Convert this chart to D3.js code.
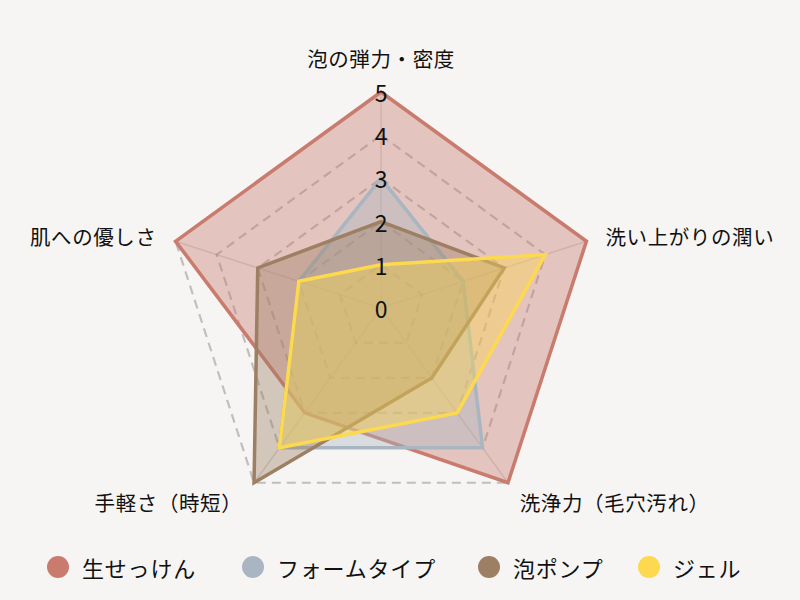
<!DOCTYPE html>
<html>
<head>
<meta charset="utf-8">
<script src="https://cdn.jsdelivr.net/npm/d3@7"></script>
<style>
  html, body { margin: 0; padding: 0; background: #f7f5f3; }
  svg { display: block; font-family: "Noto Sans CJK JP", "Noto Sans", sans-serif; }
</style>
</head>
<body>
<div id="chart"></div>
<script>
// 軸（時計回り、上から）
const axes = ["泡の弾力・密度", "洗い上がりの潤い", "洗浄力（毛穴汚れ）", "手軽さ（時短）", "肌への優しさ"];
const seriesNames = ["生せっけん", "フォームタイプ", "泡ポンプ", "ジェル"];
const namaSekken = [5, 5, 5, 3, 5];
const foamType = [3, 2, 4, 4, 2];
const awaPump = [2, 3, 2, 5, 3];
const gel = [1, 4, 3, 4, 2];
const ticks = [0, 1, 2, 3, 4, 5];
const colors = ["#c97b6e", "#a9b6c1", "#9d7f63", "#fcd94e"];

const width = 800, height = 600;
const cx = 381, cy = 308, R = 216;

const svg = d3.select("#chart").append("svg")
  .attr("width", width)
  .attr("height", height);

svg.append("rect").attr("width", width).attr("height", height).attr("fill", "#f7f5f3");

const rScale = d3.scaleLinear().domain([0, 5]).range([0, R]);
const angle = d3.scalePoint().domain(d3.range(axes.length + 1)).range([0, 2 * Math.PI]);

const g = svg.append("g").attr("transform", `translate(${cx},${cy})`);

const pt = (i, r) => [Math.sin(angle(i)) * r, -Math.cos(angle(i)) * r];

// グリッド（点線の五角形）
const gridLine = d3.lineRadial()
  .angle((d, i) => angle(i))
  .radius(d => rScale(d))
  .curve(d3.curveLinearClosed);

g.selectAll(".grid")
  .data(ticks.filter(t => t > 0))
  .join("path")
  .attr("class", "grid")
  .attr("d", t => gridLine(axes.map(() => t)))
  .attr("fill", "none")
  .attr("stroke", "rgba(0,0,0,0.22)")
  .attr("stroke-width", 2.2)
  .attr("stroke-dasharray", "9,6");

// 放射線
g.selectAll(".spoke")
  .data(axes)
  .join("line")
  .attr("class", "spoke")
  .attr("x1", 0).attr("y1", 0)
  .attr("x2", (d, i) => pt(i, R)[0])
  .attr("y2", (d, i) => pt(i, R)[1])
  .attr("stroke", "rgba(0,0,0,0.13)")
  .attr("stroke-width", 1.5);

// データ
const seriesData = [namaSekken, foamType, awaPump, gel];
const areaLine = d3.lineRadial()
  .angle((d, i) => angle(i))
  .radius(d => rScale(d))
  .curve(d3.curveLinearClosed);

g.selectAll(".series")
  .data(seriesData)
  .join("path")
  .attr("class", "series")
  .attr("d", d => areaLine(d))
  .attr("fill", (d, i) => colors[i])
  .attr("fill-opacity", 0.4)
  .attr("stroke", (d, i) => colors[i])
  .attr("stroke-width", 3.5)
  .attr("stroke-linejoin", "miter");

// 目盛りラベル
g.selectAll(".tick")
  .data(ticks)
  .join("text")
  .attr("class", "tick")
  .attr("x", 0)
  .attr("y", d => -rScale(d))
  .attr("text-anchor", "middle")
  .attr("dominant-baseline", "central")
  .attr("font-size", 23)
  .attr("fill", "#111")
  .text(d => d);

// 軸ラベル
g.selectAll(".axisLabel")
  .data(axes)
  .join("text")
  .attr("class", "axisLabel")
  .attr("x", (d, i) => pt(i, R + 20)[0])
  .attr("y", (d, i) => {
    const y = pt(i, R + 20)[1];
    if (i === 0) return y - 14;
    if (i === 2 || i === 3) return y + 3;
    return y + 1;
  })
  .attr("text-anchor", (d, i) => i === 0 ? "middle" : (pt(i, 1)[0] > 0 ? "start" : "end"))
  .attr("dominant-baseline", "central")
  .attr("font-size", 20.5)
  .attr("letter-spacing", 0.6)
  .attr("fill", "#111")
  .text(d => d);

// 凡例
const legendX = [58, 253, 489, 649];
const legend = svg.append("g").attr("class", "legend");
const items = legend.selectAll("g")
  .data(seriesNames)
  .join("g")
  .attr("transform", (d, i) => `translate(${legendX[i]},567)`);

items.append("circle")
  .attr("r", 11)
  .attr("fill", (d, i) => colors[i]);

items.append("text")
  .attr("x", 24)
  .attr("dominant-baseline", "central")
  .attr("font-size", 22)
  .attr("letter-spacing", 0.8)
  .attr("fill", "#111")
  .text(d => d);
</script>
</body>
</html>
